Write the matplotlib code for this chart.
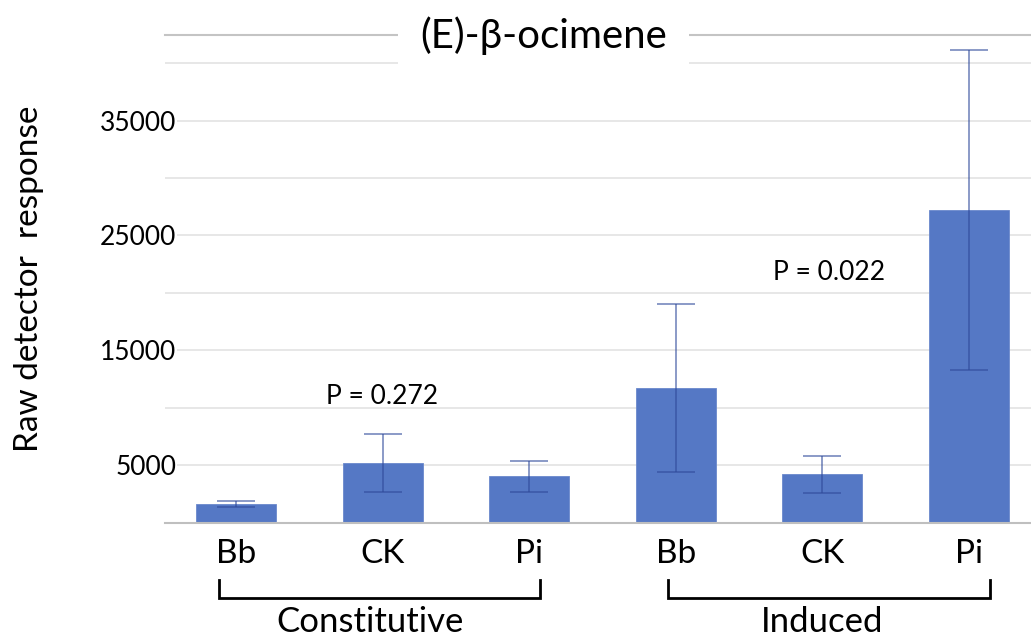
import numpy as np
import matplotlib.pyplot as plt
from matplotlib import transforms

plt.rcParams['font.family'] = ['Lato', 'DejaVu Sans']

categories = ['Bb', 'CK', 'Pi', 'Bb', 'CK', 'Pi']
means = [1650, 5200, 4050, 11700, 4200, 27200]
errors = [250, 2500, 1350, 7300, 1580, 13950]
groups = ['Constitutive', 'Induced']
p_values = ['P = 0.272', 'P = 0.022']
title = '(E)-\u03b2-ocimene'

fig = plt.figure(figsize=(10.31, 6.37), dpi=100)
ax = fig.add_axes([0.16, 0.1794, 0.84, 0.7649])

x = np.arange(len(categories))
ax.bar(x, means, width=0.546, color='#5578c5', edgecolor='#6a88cc', linewidth=0.6, zorder=2)
ax.errorbar(x, means, yerr=errors, fmt='none', ecolor='#2f4a9a', alpha=0.6,
            elinewidth=1.3, capsize=13.7, capthick=1.3, zorder=3)

ax.set_xlim(-0.484, 5.423)
ax.set_ylim(0, 42400)
ax.set_yticks([5000, 15000, 25000, 35000])
ax.set_yticks([0, 10000, 20000, 30000, 40000], minor=True)
ax.grid(axis='y', which='both', color='#e3e3e3', linewidth=1.2, zorder=0)
ax.set_axisbelow(True)
ax.tick_params(axis='y', which='both', length=0, labelsize=19, pad=-8)
for lab in ax.get_yticklabels():
    lab.set_bbox(dict(facecolor='white', edgecolor='none', pad=1))
ax.set_xticks(x)
ax.set_xticklabels(categories, fontsize=24)
ax.tick_params(axis='x', length=0, pad=12)
for s in ['left', 'right', 'top']:
    ax.spines[s].set_visible(False)
ax.spines['bottom'].set_color('#bfbfbf')
ax.spines['bottom'].set_linewidth(1.5)
ax.axhline(42400, color='#c4c4c4', linewidth=1.5, clip_on=False, zorder=1)

ax.set_ylabel('Raw detector  response', fontsize=24)
ax.yaxis.set_label_coords(-0.140, 0.5)

ax.text(0.4376, 1.0, title, transform=ax.transAxes, ha='center', va='center',
        fontsize=29, bbox=dict(facecolor='white', edgecolor='none', boxstyle='square,pad=0.55'), zorder=5)

ax.text(1.0, 11000, p_values[0], ha='center', va='center', fontsize=19)
ax.text(4.045, 21800, p_values[1], ha='center', va='center', fontsize=19)

# group brackets under the tick labels
trans = transforms.blended_transform_factory(ax.transData, fig.transFigure)
brackets = [(-0.116, 2.074), (2.947, 5.143)]
label_x = [0.914, 4.0]
for (x0, x1), lx, name in zip(brackets, label_x, groups):
    ax.plot([x0, x0, x1, x1], [0.0895, 0.0612, 0.0612, 0.0895], color='black',
            linewidth=2.0, transform=trans, clip_on=False, solid_joinstyle='miter')
    ax.text(lx, 0.024, name, transform=trans, ha='center', va='center', fontsize=25)

fig.savefig('out.png', dpi=100)
